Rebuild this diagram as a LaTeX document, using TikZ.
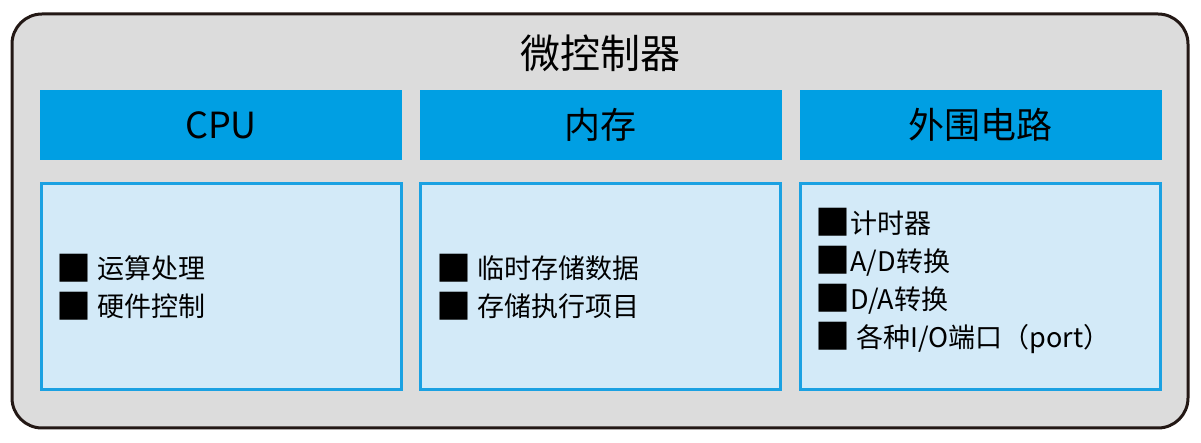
\documentclass[tikz,border=0pt]{standalone}
\usepackage{fontspec}
\setmainfont{Noto Sans CJK SC}
\usetikzlibrary{positioning}
\definecolor{chipgray}{HTML}{DCDCDC}
\definecolor{chipline}{HTML}{231815}
\definecolor{headblue}{HTML}{009FE3}
\definecolor{bodyblue}{HTML}{D3EAF8}
\definecolor{lineblue}{HTML}{1BA1E2}
\newcommand\bsq{\raisebox{-1.2pt}{\fontsize{17.5}{19}\selectfont■}}
\tikzset{
  head/.style={fill=headblue, inner sep=0pt, minimum width=181pt, minimum height=35pt, font=\fontsize{18}{20}\selectfont},
  body/.style={fill=bodyblue, draw=lineblue, line width=1.5pt, inner sep=0pt, minimum width=180pt, minimum height=103pt},
  items/.style={anchor=west, align=left, inner sep=0pt, font=\fontsize{13.5}{19}\selectfont}
}
\begin{document}
\begin{tikzpicture}[x=0.5pt,y=-0.5pt]
\useasboundingbox (0,0) rectangle (1201,443);
\draw[fill=chipgray, draw=chipline, line width=1.5pt, rounded corners=15pt] (12,14) rectangle (1188,428);
\node[font=\fontsize{20}{22}\selectfont] (title) at (600,53) {微控制器};
\node[head] (hcpu) at (221,125) {CPU};
\node[head, right=8.5pt of hcpu] (hmem) {内存};
\node[head, right=8.5pt of hmem] (hper) {外围电路};
\node[body, below=11pt of hcpu] (bcpu) {};
\node[body, below=11pt of hmem] (bmem) {};
\node[body, below=11pt of hper] (bper) {};
\node[items] (tcpu) at ([xshift=8.5pt]bcpu.west) {\bsq\ 运算处理\\\bsq\ 硬件控制};
\node[items] (tmem) at ([xshift=8.5pt]bmem.west) {\bsq\ 临时存储数据\\\bsq\ 存储执行项目};
\node[items] (tper) at ([xshift=8pt,yshift=3pt]bper.west) {\bsq 计时器\\\bsq A/D转换\\\bsq D/A转换\\\bsq\ 各种I/O端口（port）};
\end{tikzpicture}
\end{document}
